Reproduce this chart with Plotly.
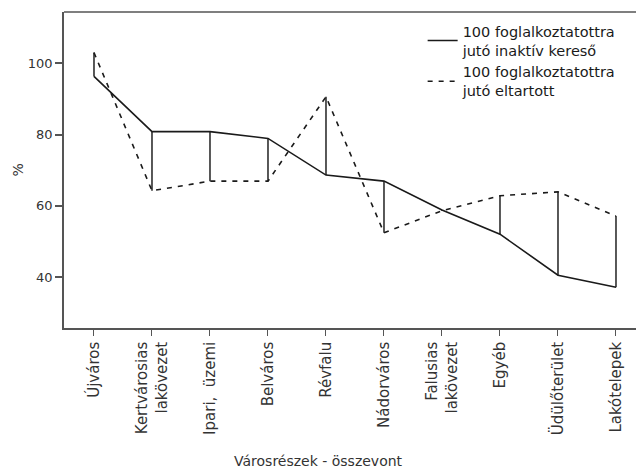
import plotly.graph_objects as go

categories = ["Újváros", "Kertvárosias<br>lakövezet", "Ipari,  üzemi", "Belváros", "Révfalu",
              "Nádorváros", "Falusias<br>lakövezet", "Egyéb", "Üdülőterület", "Lakótelepek"]
inaktiv = [96.3, 80.8, 80.8, 78.9, 68.6, 66.9, 58.8, 52.0, 40.5, 37.1]
eltartott = [103.0, 64.2, 66.9, 66.9, 90.6, 52.4, 58.6, 62.8, 63.9, 57.1]
y_ticks = [40, 60, 80, 100]

name_inaktiv = "100 foglalkoztatottra<br>jutó inaktív kereső"
name_eltartott = "100 foglalkoztatottra<br>jutó eltartott"

idx = list(range(len(categories)))
FONT = "DejaVu Sans"
INK = "#1a1a1a"
TXT = "#333333"
FRAME = "#555555"

# high-low drop lines between the two series
dx, dy = [], []
for i in idx:
    dx += [i, i, None]
    dy += [inaktiv[i], eltartott[i], None]

fig = go.Figure()
fig.add_trace(go.Scatter(x=dx, y=dy, mode="lines", line=dict(color="#111111", width=1.4),
                         showlegend=False, hoverinfo="skip"))
fig.add_trace(go.Scatter(x=idx, y=inaktiv, mode="lines", name=name_inaktiv,
                         line=dict(color=INK, width=1.6)))
fig.add_trace(go.Scatter(x=idx, y=eltartott, mode="lines", name=name_eltartott,
                         line=dict(color=INK, width=1.6, dash="5px,6px")))

fig.update_layout(
    width=636, height=470,
    margin=dict(l=64, r=0, t=12, b=142),
    paper_bgcolor="white", plot_bgcolor="white",
    font=dict(family=FONT, size=12, color=TXT),
    showlegend=True,
    legend=dict(x=0.627, y=0.99, xanchor="left", yanchor="top",
                bgcolor="rgba(0,0,0,0)", font=dict(size=14.5, color=INK),
                itemwidth=30),
    xaxis=dict(range=[-0.517, 9.345], tickvals=idx, ticktext=categories, tickangle=-90,
               automargin=False,
               showgrid=False, zeroline=False, showline=True, linecolor=FRAME, linewidth=1.5,
               ticks="outside", ticklen=6, tickcolor=FRAME, tickwidth=1,
               tickfont=dict(size=15, color=TXT)),
    yaxis=dict(range=[25.66, 114.4], tickvals=y_ticks, showgrid=False, zeroline=False,
               automargin=False,
               showline=True, linecolor=FRAME, linewidth=1.5,
               ticks="outside", ticklen=7, tickcolor=FRAME, tickwidth=1.5,
               tickfont=dict(size=13, color=TXT)),
    shapes=[dict(type="line", xref="paper", yref="paper", x0=0, x1=1, y0=1, y1=1,
                 line=dict(color=FRAME, width=1.5))],
    annotations=[
        dict(text="Városrészek - összevont", xref="paper", yref="paper",
             x=(318 - 64) / 572, y=0, yshift=-133, xanchor="center", yanchor="middle",
             showarrow=False, font=dict(size=14, color=TXT)),
        dict(text="%", xref="paper", yref="paper", x=(17.5 - 64) / 572, y=0.5,
             xanchor="center", yanchor="middle", textangle=-90, showarrow=False,
             font=dict(size=14, color=TXT)),
    ],
)

fig.write_html("out.html", config={"displayModeBar": False},
               post_script="document.body.style.margin='0';document.body.style.padding='0';")
